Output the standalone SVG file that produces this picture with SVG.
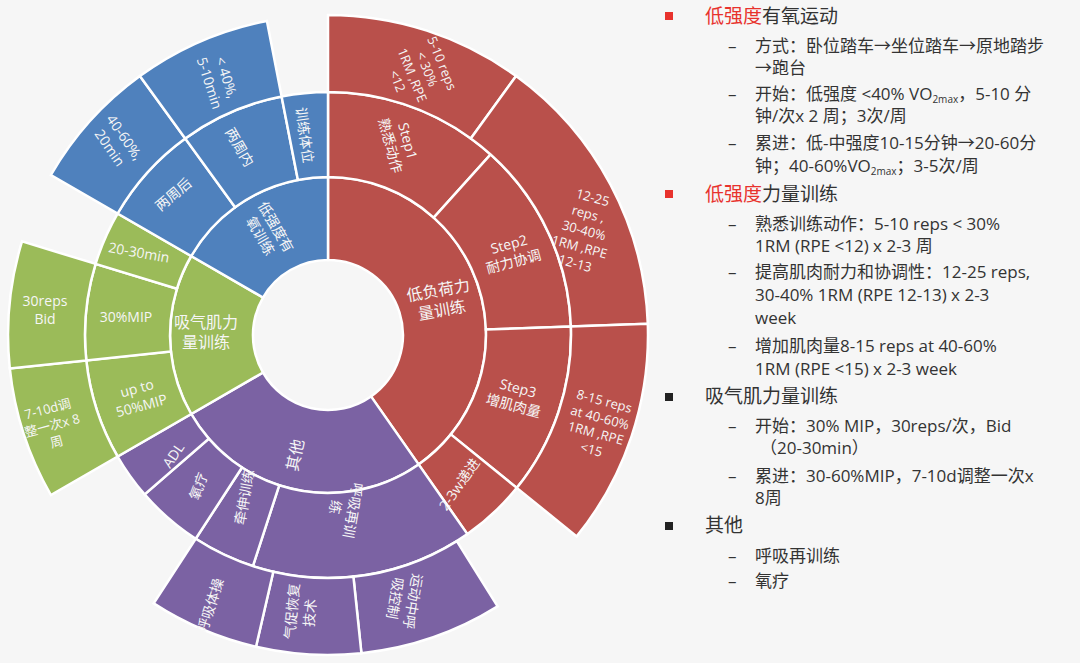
<svg xmlns="http://www.w3.org/2000/svg" width="1080" height="663" viewBox="0 0 1080 663">
<style>
.seg{stroke:#fff;stroke-width:2.5}
.r{fill:#b9504b}.b{fill:#4f81bd}.g{fill:#9bbb59}.p{fill:#7b62a3}
.l{font-family:"Open Sans","Noto Sans CJK SC",sans-serif;font-size:14px;fill:#f6f6f6;text-anchor:middle;dominant-baseline:central}
.t{font-family:"Open Sans","Noto Sans CJK SC",sans-serif;font-size:17px;fill:#333}
.h{font-size:19px}
.red{fill:#e8322d}
.sub{font-size:10px}
</style>
<rect width="1080" height="663" fill="#f6f6f6"/>
<g id="chart">
<g id="ring1">
<path class="seg r" d="M328,177 A158,158 0 0 1 418.6,464.4 L371,396.4 A75,75 0 0 0 328,260 Z"/>
<path class="seg p" d="M418.6,464.4 A158,158 0 0 1 191.2,414 L263,372.5 A75,75 0 0 0 371,396.4 Z"/>
<path class="seg g" d="M191.2,414 A158,158 0 0 1 191.2,256 L263,297.5 A75,75 0 0 0 263,372.5 Z"/>
<path class="seg b" d="M191.2,256 A158,158 0 0 1 328,177 L328,260 A75,75 0 0 0 263,297.5 Z"/>
</g>
<g id="ring2">
<path class="seg r" d="M328,92 A243,243 0 0 1 490.6,154.4 L433.7,217.6 A158,158 0 0 0 328,177 Z"/>
<path class="seg r" d="M490.6,154.4 A243,243 0 0 1 570.9,326.5 L485.9,329.5 A158,158 0 0 0 433.7,217.6 Z"/>
<path class="seg r" d="M570.9,326.5 A243,243 0 0 1 516.8,487.9 L450.8,434.4 A158,158 0 0 0 485.9,329.5 Z"/>
<path class="seg r" d="M516.8,487.9 A243,243 0 0 1 467.4,534.1 L418.6,464.4 A158,158 0 0 0 450.8,434.4 Z"/>
<path class="seg p" d="M467.4,534.1 A243,243 0 0 1 252.9,566.1 L279.2,485.3 A158,158 0 0 0 418.6,464.4 Z"/>
<path class="seg p" d="M252.9,566.1 A243,243 0 0 1 195.7,538.8 L242,467.5 A158,158 0 0 0 279.2,485.3 Z"/>
<path class="seg p" d="M195.7,538.8 A243,243 0 0 1 144.6,494.4 L208.8,438.7 A158,158 0 0 0 242,467.5 Z"/>
<path class="seg p" d="M144.6,494.4 A243,243 0 0 1 117.6,456.5 L191.2,414 A158,158 0 0 0 208.8,438.7 Z"/>
<path class="seg g" d="M117.6,456.5 A243,243 0 0 1 86.3,360.4 L170.9,351.5 A158,158 0 0 0 191.2,414 Z"/>
<path class="seg g" d="M86.3,360.4 A243,243 0 0 1 95.6,263.9 L176.9,288.8 A158,158 0 0 0 170.9,351.5 Z"/>
<path class="seg g" d="M95.6,263.9 A243,243 0 0 1 117.6,213.5 L191.2,256 A158,158 0 0 0 176.9,288.8 Z"/>
<path class="seg b" d="M117.6,213.5 A243,243 0 0 1 185.2,138.4 L235.1,207.2 A158,158 0 0 0 191.2,256 Z"/>
<path class="seg b" d="M185.2,138.4 A243,243 0 0 1 281.6,96.5 L297.9,179.9 A158,158 0 0 0 235.1,207.2 Z"/>
<path class="seg b" d="M281.6,96.5 A243,243 0 0 1 328,92 L328,177 A158,158 0 0 0 297.9,179.9 Z"/>
</g>
<g id="ring3">
<path class="seg r" d="M328,15 A320,320 0 0 1 516.1,76.1 L470.8,138.4 A243,243 0 0 0 328,92 Z"/>
<path class="seg r" d="M516.1,76.1 A320,320 0 0 1 647.8,323.8 L570.9,326.5 A243,243 0 0 0 470.8,138.4 Z"/>
<path class="seg r" d="M647.8,323.8 A320,320 0 0 1 576.7,536.4 L516.8,487.9 A243,243 0 0 0 570.9,326.5 Z"/>
<path class="seg p" d="M497.6,606.4 A320,320 0 0 1 361.4,653.2 L353.4,576.7 A243,243 0 0 0 456.8,541.1 Z"/>
<path class="seg p" d="M361.4,653.2 A320,320 0 0 1 256,646.8 L273.3,571.8 A243,243 0 0 0 353.4,576.7 Z"/>
<path class="seg p" d="M256,646.8 A320,320 0 0 1 153.7,603.4 L195.7,538.8 A243,243 0 0 0 273.3,571.8 Z"/>
<path class="seg g" d="M50.9,495 A320,320 0 0 1 9.8,368.4 L86.3,360.4 A243,243 0 0 0 117.6,456.5 Z"/>
<path class="seg g" d="M9.8,368.4 A320,320 0 0 1 22,241.4 L95.6,263.9 A243,243 0 0 0 86.3,360.4 Z"/>
<path class="seg b" d="M50.9,175 A320,320 0 0 1 139.9,76.1 L185.2,138.4 A243,243 0 0 0 117.6,213.5 Z"/>
<path class="seg b" d="M139.9,76.1 A320,320 0 0 1 266.9,20.9 L281.6,96.5 A243,243 0 0 0 185.2,138.4 Z"/>
</g>
<g id="labels">
<text class="l" transform="translate(440,300) rotate(-10)"><tspan x="0" y="-10" style="font-size:16px">低负荷力</tspan><tspan x="0" y="10" style="font-size:16px">量训练</tspan></text>
<text class="l" transform="translate(400,143) rotate(75)"><tspan x="0" y="-9">Step1</tspan><tspan x="0" y="9">熟悉动作</tspan></text>
<text class="l" style="font-size:13px" transform="translate(420,72) rotate(68)"><tspan x="0" y="-24">5-10 reps</tspan><tspan x="0" y="-8">&lt; 30%</tspan><tspan x="0" y="8">1RM ,RPE</tspan><tspan x="0" y="24">&lt;12</tspan></text>
<text class="l" transform="translate(511,252) rotate(-15)"><tspan x="0" y="-9">Step2</tspan><tspan x="0" y="9">耐力协调</tspan></text>
<text class="l" style="font-size:13px" transform="translate(584,230) rotate(15)"><tspan x="0" y="-34">12-25</tspan><tspan x="0" y="-17">reps ,</tspan><tspan x="0" y="0">30-40%</tspan><tspan x="0" y="17">1RM ,RPE</tspan><tspan x="0" y="34">12-13</tspan></text>
<text class="l" transform="translate(516,396) rotate(15)"><tspan x="0" y="-9">Step3</tspan><tspan x="0" y="9">增肌肉量</tspan></text>
<text class="l" style="font-size:13px" transform="translate(598,425) rotate(15)"><tspan x="0" y="-25">8-15 reps</tspan><tspan x="0" y="-8">at 40-60%</tspan><tspan x="0" y="8">1RM ,RPE</tspan><tspan x="0" y="25">&lt;15</tspan></text>
<text class="l" transform="translate(459,484) rotate(-55)">2-3w递进</text>
<text class="l" style="font-size:16px" transform="translate(295,455) rotate(-78)">其他</text>
<text class="l" transform="translate(173,455) rotate(-55)">ADL</text>
<text class="l" transform="translate(198,486) rotate(-70)">氧疗</text>
<text class="l" transform="translate(244,497) rotate(-80)">牵伸训练</text>
<text class="l" transform="translate(345,509) rotate(100)"><tspan x="0" y="-9">呼吸再训</tspan><tspan x="0" y="9">练</tspan></text>
<text class="l" transform="translate(210,605) rotate(-72)">呼吸体操</text>
<text class="l" transform="translate(300,612) rotate(-85)"><tspan x="0" y="-9">气促恢复</tspan><tspan x="0" y="9">技术</tspan></text>
<text class="l" transform="translate(405,600) rotate(100)"><tspan x="0" y="-9">运动中呼</tspan><tspan x="0" y="9">吸控制</tspan></text>
<text class="l" transform="translate(206,332)"><tspan x="0" y="-10" style="font-size:16px">吸气肌力</tspan><tspan x="0" y="10" style="font-size:16px">量训练</tspan></text>
<text class="l" transform="translate(139,252) rotate(10)">20-30min</text>
<text class="l" transform="translate(126,316)">30%MIP</text>
<text class="l" transform="translate(139,396) rotate(-15)"><tspan x="0" y="-9">up to</tspan><tspan x="0" y="9">50%MIP</tspan></text>
<text class="l" transform="translate(45,309)"><tspan x="0" y="-9">30reps</tspan><tspan x="0" y="9">Bid</tspan></text>
<text class="l" style="font-size:13px" transform="translate(52,425) rotate(-15)"><tspan x="0" y="-17">7-10d调</tspan><tspan x="0" y="0">整一次x 8</tspan><tspan x="0" y="17">周</tspan></text>
<text class="l" transform="translate(269,231) rotate(60)"><tspan x="0" y="-9">低强度有</tspan><tspan x="0" y="9">氧训练</tspan></text>
<text class="l" transform="translate(173,194) rotate(-40)">两周后</text>
<text class="l" transform="translate(240,147) rotate(60)">两周内</text>
<text class="l" transform="translate(305,135) rotate(82)">训练体位</text>
<text class="l" transform="translate(118,142) rotate(55)"><tspan x="0" y="-9">40-60%,</tspan><tspan x="0" y="9">20min</tspan></text>
<text class="l" transform="translate(219,80) rotate(72)"><tspan x="0" y="-9">&lt; 40%,</tspan><tspan x="0" y="9">5-10min</tspan></text>
</g>
</g>
<g id="notes" class="t">
<rect x="665" y="12" width="8" height="8" fill="#e8322d"/>
<rect x="665" y="190" width="8" height="8" fill="#e8322d"/>
<rect x="665" y="393" width="8" height="8" fill="#222"/>
<rect x="665" y="522" width="8" height="8" fill="#222"/>
<text class="t h" x="705" y="23"><tspan class="red">低强度</tspan>有氧运动</text>
<text class="t h" x="705" y="201"><tspan class="red">低强度</tspan>力量训练</text>
<text class="t h" x="705" y="403">吸气肌力量训练</text>
<text class="t h" x="705" y="532">其他</text>
<g class="t">
<text class="t" x="728" y="52">–</text><text class="t" x="755" y="52">方式：卧位踏车→坐位踏车→原地踏步</text>
<text class="t" x="755" y="74">→跑台</text>
<text class="t" x="728" y="100">–</text><text class="t" x="755" y="100">开始：低强度 &lt;40% VO<tspan class="sub" dy="3">2max</tspan><tspan dy="-3">，5-10 分</tspan></text>
<text class="t" x="755" y="122">钟/次x 2 周；3次/周</text>
<text class="t" x="728" y="149">–</text><text class="t" x="755" y="149">累进：低-中强度10-15分钟→20-60分</text>
<text class="t" x="755" y="172">钟；40-60%VO<tspan class="sub" dy="3">2max</tspan><tspan dy="-3">；3-5次/周</tspan></text>
<text class="t" x="728" y="230">–</text><text class="t" x="755" y="230">熟悉训练动作：5-10 reps &lt; 30%</text>
<text class="t" x="755" y="252">1RM (RPE &lt;12) x 2-3 周</text>
<text class="t" x="728" y="278">–</text><text class="t" x="755" y="278">提高肌肉耐力和协调性：12-25 reps,</text>
<text class="t" x="755" y="301">30-40% 1RM (RPE 12-13) x 2-3</text>
<text class="t" x="755" y="324">week</text>
<text class="t" x="728" y="352">–</text><text class="t" x="755" y="352">增加肌肉量8-15 reps at 40-60%</text>
<text class="t" x="755" y="375">1RM (RPE &lt;15) x 2-3 week</text>
<text class="t" x="728" y="432">–</text><text class="t" x="755" y="432">开始：30% MIP，30reps/次，Bid</text>
<text class="t" x="760" y="454">（20-30min）</text>
<text class="t" x="728" y="482">–</text><text class="t" x="755" y="482">累进：30-60%MIP，7-10d调整一次x</text>
<text class="t" x="755" y="504">8周</text>
<text class="t" x="728" y="562">–</text><text class="t" x="755" y="562">呼吸再训练</text>
<text class="t" x="728" y="587">–</text><text class="t" x="755" y="587">氧疗</text>
</g>
</g>
</svg>
